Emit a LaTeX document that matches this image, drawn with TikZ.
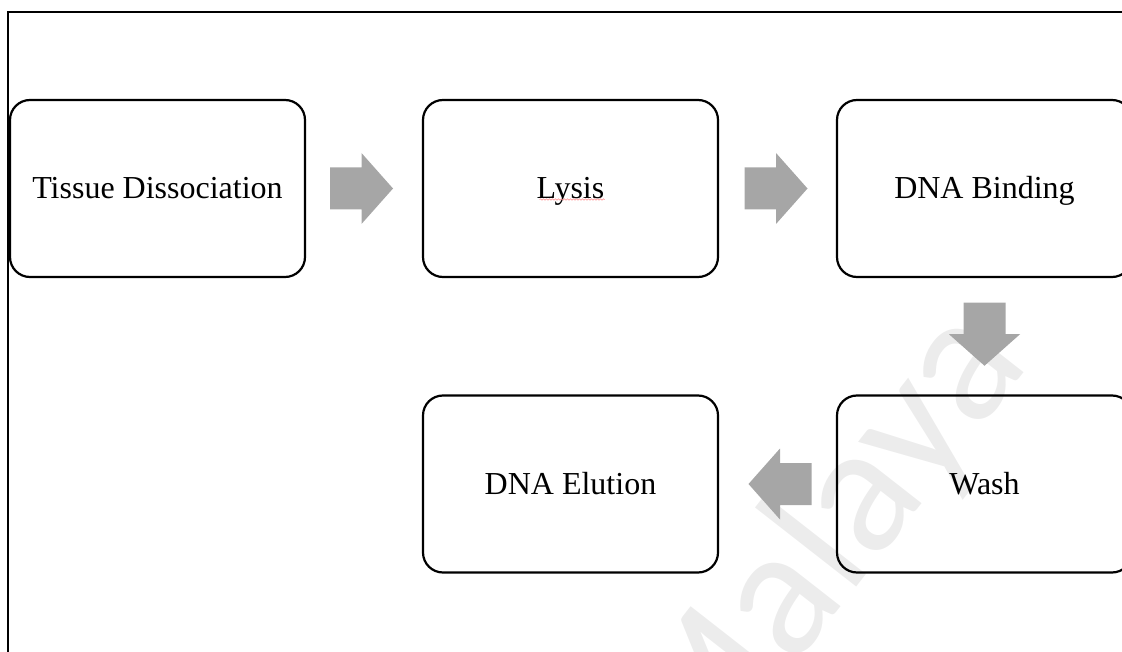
\documentclass[tikz,border=0pt]{standalone}
\usepackage{fontspec}
\setmainfont{Liberation Serif}
\newfontfamily\wmfont{Carlito}
\usetikzlibrary{decorations.pathmorphing,calc}
\definecolor{arrowgray}{RGB}{166,166,166}
\definecolor{wmgray}{RGB}{236,236,236}
\tikzset{
  stepbox/.style={draw=black, line width=2.2pt, rounded corners=20pt,
    minimum width=295pt, minimum height=177pt, inner sep=0pt,
    text height=27pt, text depth=7pt,
    font=\fontsize{32}{38}\selectfont},
  barrow/.pic={\fill[arrowgray] (-31.5,-21) -- (0,-21) -- (0,-35.5) -- (31.5,0)
     -- (0,35.5) -- (0,21) -- (-31.5,21) -- cycle;},
  frameline/.style={draw=black, line width=1.4pt}
}
\begin{document}
\begin{tikzpicture}[x=1pt,y=-1pt]
\useasboundingbox (0,0) rectangle (1122,652);
\clip (0,0) rectangle (1122,652);
% watermark
\node[anchor=base, rotate=52, text=wmgray, inner sep=0pt,
      font=\wmfont\fontsize{185}{185}\selectfont] (wm) at (864,578) {Malaya};
% frame
\draw[frameline] (8,665) -- (8,12) -- (1135,12);
% boxes
\node[stepbox] (tissue) at (157.5,188.5) {Tissue Dissociation};
\node[stepbox] (lysis)  at (570.5,188.5) {Lysis};
\node[stepbox] (bind)   at (984.5,188.5) {DNA Binding};
\node[stepbox] (wash)   at (984.5,484)   {Wash};
\node[stepbox] (elute)  at (570.5,484)   {DNA Elution};
% spell-check squiggle
\draw[red!45, line width=0.6pt, decorate,
      decoration={snake, amplitude=0.7pt, segment length=3pt}]
  ([xshift=-31pt,yshift=-11pt]lysis.center) -- ([xshift=34pt,yshift=-11pt]lysis.center);
% block arrows
\coordinate (a1) at ($(tissue.east)!0.5!(lysis.west)+(-2.5,0)$);
\coordinate (a2) at ($(lysis.east)!0.5!(bind.west)+(-1.5,0)$);
\coordinate (a3) at ($(bind.south)!0.5!(wash.north)+(0,-2)$);
\coordinate (a4) at ($(wash.west)!0.5!(elute.east)+(2.5,0)$);
\pic at (a1) {barrow};
\pic at (a2) {barrow};
\pic[rotate=-90] at (a3) {barrow};
\pic[rotate=180] at (a4) {barrow};
\end{tikzpicture}
\end{document}
